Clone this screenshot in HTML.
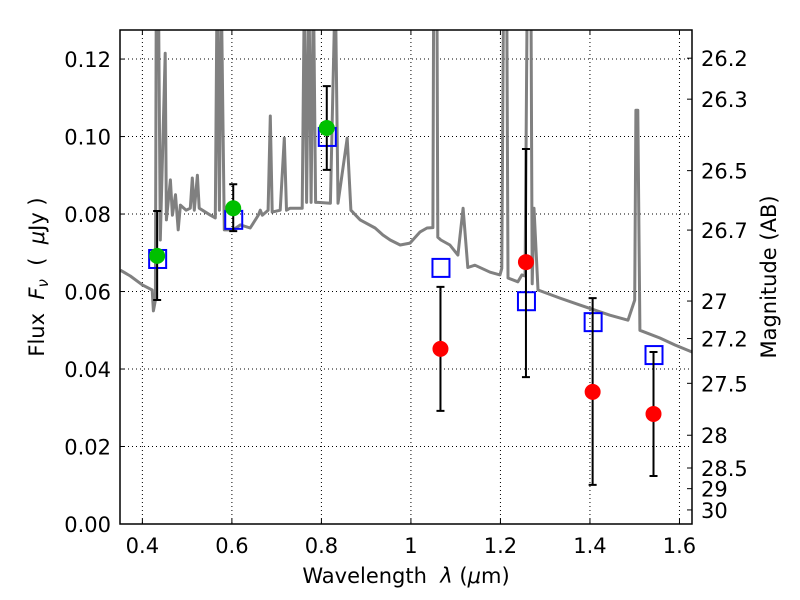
<!DOCTYPE html>
<html><head><meta charset="utf-8"><style>
body{margin:0;background:#fff;}
svg{display:block;font-family:"DejaVu Sans","Liberation Sans",sans-serif;}
</style></head><body>
<svg id="chart" width="800" height="600" viewBox="0 0 800 600" xmlns="http://www.w3.org/2000/svg">
<g id="grid"></g>
<g id="spec"></g>
<g id="marks"></g>
<g id="axes"></g>
<text x="406" y="583" font-size="21" text-anchor="middle" xml:space="preserve">Wavelength  <tspan font-style="italic">λ</tspan> (<tspan font-style="italic">μ</tspan>m)</text>
<text transform="translate(44,277) rotate(-90)" font-size="21" text-anchor="middle" xml:space="preserve">Flux  <tspan font-style="italic">F<tspan font-size="15" dy="4">ν</tspan></tspan><tspan dy="-4">  (  <tspan font-style="italic">μ</tspan>Jy )</tspan></text>
<text transform="translate(776,277) rotate(-90)" font-size="21" text-anchor="middle">Magnitude (AB)</text>
</svg>
<script>
const xTicks=[0.4,0.6,0.8,1,1.2,1.4,1.6];
const yTicks=[0,0.02,0.04,0.06,0.08,0.1,0.12];
const yTickLabels=["0.00","0.02","0.04","0.06","0.08","0.10","0.12"];
const magTicks=[26.2,26.3,26.5,26.7,27,27.2,27.5,28,28.5,29,30];
const specLambda=[0.351,0.373,0.4,0.422,0.4246,0.429,0.431,0.4357,0.44,0.451,0.4536,0.4625,0.467,0.474,0.48,0.485,0.498,0.507,0.5116,0.516,0.523,0.527,0.552,0.563,0.567,0.572,0.576,0.583,0.603,0.619,0.641,0.659,0.6634,0.668,0.681,0.6857,0.69,0.708,0.717,0.722,0.73,0.757,0.762,0.767,0.772,0.777,0.782,0.787,0.793,0.82,0.831,0.837,0.8576,0.866,0.8866,0.92,0.9375,0.9536,0.976,0.998,1.0205,1.036,1.049,1.051,1.058,1.06,1.067,1.087,1.105,1.1165,1.127,1.143,1.177,1.199,1.203,1.207,1.214,1.217,1.239,1.248,1.255,1.26,1.268,1.271,1.275,1.284,1.333,1.3777,1.4446,1.485,1.5,1.5027,1.507,1.5116,1.5563,1.59,1.628];
const specFlux=[0.0655,0.064,0.0617,0.0604,0.055,0.0578,0.14,0.14,0.0733,0.1215,0.0785,0.0888,0.0797,0.085,0.0759,0.0823,0.081,0.0815,0.0893,0.081,0.090,0.0815,0.0797,0.079,0.14,0.081,0.14,0.0759,0.0759,0.0772,0.0764,0.0797,0.081,0.0797,0.081,0.1053,0.0805,0.081,0.0996,0.081,0.0815,0.0815,0.14,0.083,0.14,0.083,0.14,0.083,0.083,0.0828,0.14,0.0828,0.0996,0.081,0.0785,0.0764,0.0746,0.0733,0.072,0.0725,0.0754,0.0764,0.0765,0.14,0.14,0.0740,0.0733,0.0720,0.0694,0.0815,0.0662,0.0668,0.065,0.0643,0.0660,0.14,0.14,0.0635,0.0625,0.0643,0.064,0.14,0.14,0.0620,0.0815,0.0604,0.0583,0.0565,0.0539,0.0526,0.0578,0.1068,0.1068,0.05,0.048,0.0462,0.0444];
const modelLambda=[0.433,0.603,0.812,1.066,1.257,1.406,1.542];
const modelFlux=[0.0684,0.0785,0.0999,0.0661,0.0575,0.0521,0.0436];
const detLambda=[0.433,0.603,0.812];
const detFlux=[0.0692,0.0815,0.1022];
const detLo=[0.0578,0.0756,0.0914];
const detHi=[0.0808,0.0877,0.113];
const ndLambda=[1.066,1.257,1.406,1.542];
const ndFlux=[0.0452,0.0676,0.0341,0.0284];
const ndLo=[0.0292,0.0379,0.0101,0.0124];
const ndHi=[0.0612,0.0968,0.0583,0.0444];

const L=120,R=692,T=30,B=524,X0=0.35,X1=1.628,Y0=0,Y1=0.1275;
const sx=v=>L+(v-X0)/(X1-X0)*(R-L);
const sy=v=>B-(v-Y0)/(Y1-Y0)*(B-T);
const NS="http://www.w3.org/2000/svg";
function mk(parent,tag,attrs){const e=document.createElementNS(NS,tag);for(const k in attrs)e.setAttribute(k,attrs[k]);document.getElementById(parent).appendChild(e);return e;}

xTicks.forEach(t=>{const x=sx(t);
 let g=mk('grid','line',{x1:x,x2:x,y1:T,y2:B,stroke:'#000','stroke-width':1,'stroke-dasharray':'1,3'});
 
 
 let tk=mk('axes','line',{x1:x,x2:x,y1:B,y2:B-5,stroke:'#000'});
 
 
 let tk2=mk('axes','line',{x1:x,x2:x,y1:T,y2:T+5,stroke:'#000'});
 
 
 let lb=mk('axes','text',{x:x,y:B+29,'font-size':21,'text-anchor':'middle'});lb.textContent=String(t);
 
 
});
yTicks.forEach((t,i)=>{const y=sy(t);
 let g=mk('grid','line',{x1:L,x2:R,y1:y,y2:y,stroke:'#000','stroke-width':1,'stroke-dasharray':'1,3'});
 
 
 let tk=mk('axes','line',{x1:L,x2:L+5,y1:y,y2:y,stroke:'#000'});
 
 
 let lb=mk('axes','text',{x:L-9,y:y+8,'font-size':21,'text-anchor':'end'});lb.textContent=yTickLabels[i];
 
 
});
magTicks.forEach(m=>{const f=Math.pow(10,(23.9-m)/2.5);const y=sy(f);
 let tk=mk('axes','line',{x1:R-5,x2:R,y1:y,y2:y,stroke:'#000'});
 
 
 let lb=mk('axes','text',{x:R+9,y:y+8,'font-size':21});lb.textContent=String(m);
 
 
});
let d=specLambda.map((l,i)=>(i?'L':'M')+sx(l).toFixed(1)+','+sy(specFlux[i]).toFixed(1)).join('');
mk('spec','clipPath',{id:'clip'});
mk('clip','rect',{x:L,y:T,width:R-L,height:B-T});
let sp=mk('spec','path',{d:d,fill:'none',stroke:'#808080','stroke-width':3,'clip-path':'url(#clip)','stroke-linejoin':'round'});


modelLambda.forEach((l,i)=>{const x=sx(l),y=sy(modelFlux[i]);
 let r=mk('marks','rect',{x:x-8,y:y-9,width:17,height:18,fill:'none',stroke:'#0000ff','stroke-width':2});
 
 
});
function eb(ls,fs,lo,hi,col,name){ls.forEach((l,i)=>{const x=sx(l);
 let e=mk('marks','path',{d:`M${x},${sy(lo[i])}V${sy(hi[i])}M${x-4},${sy(lo[i])}h8M${x-4},${sy(hi[i])}h8`,stroke:'#000','stroke-width':2,fill:'none'});
 
 
 let c=mk('marks','circle',{cx:x,cy:sy(fs[i]),r:8,fill:col});
 
 
});}
eb(detLambda,detFlux,detLo,detHi,'#00c000','detection-point');
eb(ndLambda,ndFlux,ndLo,ndHi,'#ff0000','observed-point');
let fr=mk('axes','rect',{x:L,y:T,width:R-L,height:B-T,fill:'none',stroke:'#000','stroke-width':1.5});


</script>
</body></html>
